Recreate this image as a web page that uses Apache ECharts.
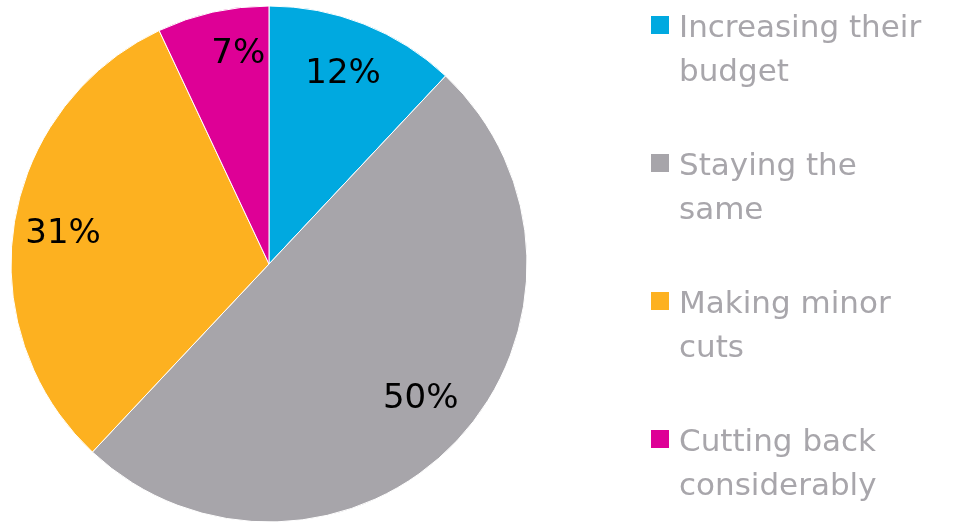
<!DOCTYPE html>
<html>
<head>
<meta charset="utf-8">
<script src="https://cdn.jsdelivr.net/npm/echarts@6/dist/echarts.min.js"></script>
<style>
  html, body { margin: 0; padding: 0; background: #fff; }
  #chart { width: 974px; height: 522px; }
</style>
</head>
<body>
<div id="chart"></div>
<script>
// Budget intentions, share of respondents (%)
const categories = [
  'Increasing their\nbudget',
  'Staying the\nsame',
  'Making minor\ncuts',
  'Cutting back\nconsiderably'
];
const shares = [12, 50, 31, 7];
const colors = ['#00A9E0', '#A7A5AA', '#FDB120', '#DE0096'];

const pieData = categories.map((name, i) => ({
  name,
  value: shares[i],
  itemStyle: { color: colors[i] }
}));

const R = 258;
const chart = echarts.init(document.getElementById('chart'), null, { renderer: 'canvas' });

// small hand adjustments of the value labels
const labelNudge = [[-3, 5], [-1, -8], [1, 3], [15, -5]];

chart.setOption({
  animation: false,
  color: colors,
  legend: {
    orient: 'vertical',
    left: 649,
    top: 6,
    padding: 0,
    itemGap: 48,
    itemWidth: 20,
    itemHeight: 88,
    // square aligned with the first text line of each two-line entry
    icon: 'path://M0,8H20V28H0Z M0,0 M20,88',
    selectedMode: false,
    textStyle: {
      color: '#A8A6AB',
      fontFamily: 'DejaVu Sans',
      fontSize: 31,
      lineHeight: 44,
      padding: [0, 0, 0, 4]
    },
    data: categories
  },
  series: [
    {
      type: 'pie',
      center: [269, 264],
      radius: R,
      startAngle: 90,
      clockwise: true,
      silent: true,
      label: { show: false },
      labelLine: { show: false },
      itemStyle: { borderColor: '#fff', borderWidth: 1 },
      data: pieData
    },
    {
      // transparent ring that places the value labels at ~80% of the radius
      type: 'pie',
      center: [269, 264],
      radius: [Math.round(R * 0.6), R],
      startAngle: 90,
      clockwise: true,
      silent: true,
      itemStyle: { color: 'rgba(0,0,0,0)' },
      label: {
        show: true,
        position: 'inside',
        formatter: '{c}%',
        color: '#000',
        fontFamily: 'DejaVu Sans',
        fontSize: 34
      },
      labelLayout: (p) => ({ dx: labelNudge[p.dataIndex][0], dy: labelNudge[p.dataIndex][1] }),
      labelLine: { show: false },
      data: categories.map((name, i) => ({ name, value: shares[i] }))
    }
  ]
});
</script>
</body>
</html>
